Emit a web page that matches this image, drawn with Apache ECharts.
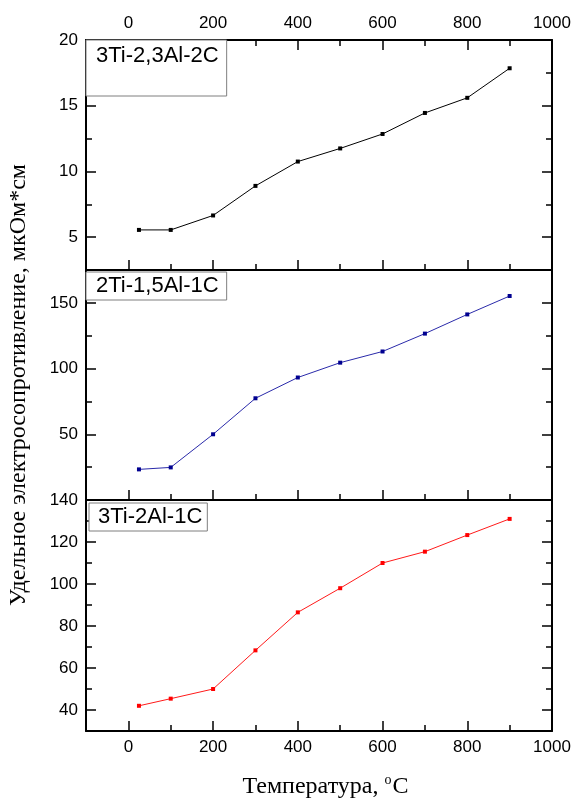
<!DOCTYPE html>
<html>
<head>
<meta charset="utf-8">
<script src="https://cdn.jsdelivr.net/npm/echarts@6/dist/echarts.min.js"></script>
<style>
  html, body { margin: 0; padding: 0; background: #fff; }
  #chart { width: 571px; height: 799px; }
</style>
</head>
<body>
<div id="chart"></div>
<script>
// Temperature points, °C
const temperatures = [25, 100, 200, 300, 400, 500, 600, 700, 800, 900];
// Specific resistivity, µOhm*cm, for each composition
const rho3Ti23Al2C = [5.55, 5.55, 6.65, 8.9, 10.75, 11.75, 12.85, 14.45, 15.6, 17.85];
const rho2Ti15Al1C = [23.3, 24.8, 50, 77.4, 93.2, 104.5, 113, 126.6, 141.2, 155.2];
const rho3Ti2Al1C = [42, 45.4, 50, 68.4, 86.5, 98, 110, 115.4, 123.3, 131];
const seriesNames = ['3Ti-2,3Al-2C', '2Ti-1,5Al-1C', '3Ti-2Al-1C'];

// Tick labels
const xTickLabels = [0, 200, 400, 600, 800, 1000];
const yTickLabels1 = [5, 10, 15, 20];
const yTickLabels2 = [50, 100, 150];
const yTickLabels3 = [40, 60, 80, 100, 120, 140];

const yTitle = 'Удельное электросопротивление, мкОм*см';
const xTitle = 'Температура, {sup|o}C';

// Axis ranges: [min, max, major step, minor step]
const xRange = [-100, 1000, 200, 100];
const yRanges = [[2.5, 20, 5, 2.5], [0, 175, 50, 25], [30, 140, 20, 10]];

const grids = [
  { left: 86, right: 19, top: 40, height: 230, outerBoundsMode: 'none' },
  { left: 86, right: 19, top: 270, height: 230, outerBoundsMode: 'none' },
  { left: 86, right: 19, top: 500, height: 231, outerBoundsMode: 'none' }
];

function stepValues(min, max, step) {
  const out = [];
  const start = Math.ceil(min / step - 1e-9);
  for (let k = start; k * step <= max + 1e-9; k++) out.push(+(k * step).toFixed(6));
  return out;
}
function majorMinor(r) {
  const major = stepValues(r[0], r[1], r[2]);
  const minor = stepValues(r[0], r[1], r[3]).filter(v => !major.some(m => Math.abs(m - v) < 1e-9));
  return { major, minor };
}

const tickFont = { fontSize: 17, fontFamily: 'Liberation Sans, Arial, sans-serif', color: '#000', formatter: v => String(v) };
const serifFont = 'Liberation Serif, Times New Roman, serif';

function axis(grid, pos, r, ticks, len, labels, showLine, extra) {
  return Object.assign({
    type: 'value', gridIndex: grid, position: pos,
    min: r[0], max: r[1], interval: r[3],
    axisLine: { show: showLine, onZero: false, lineStyle: { color: '#000', width: 2 } },
    axisTick: { show: true, inside: true, length: len, customValues: ticks, lineStyle: { color: '#000', width: 1.5 } },
    axisLabel: labels ? Object.assign({ show: true, customValues: labels, margin: 8 }, tickFont) : { show: false },
    splitLine: { show: false }
  }, extra || {});
}

const xTicks = majorMinor(xRange);
const xAxes = [];
const yAxes = [];

grids.forEach((g, i) => {
  const yTicks = majorMinor(yRanges[i]);
  const yLabels = [yTickLabels1, yTickLabels2, yTickLabels3][i];
  const xNameOpt = i === 2 ? {
    name: xTitle, nameLocation: 'middle', nameGap: 42,
    nameTextStyle: {
      fontFamily: serifFont, fontSize: 24, color: '#000', padding: [0, 0, 0, 13],
      rich: { sup: { fontFamily: serifFont, fontSize: 14, color: '#000', padding: [0, 1, 13, 0] } }
    }
  } : null;
  const yNameOpt = i === 1 ? {
    name: yTitle, nameLocation: 'middle', nameGap: 55,
    nameTextStyle: { fontFamily: serifFont, fontSize: 24, color: '#000' }
  } : null;
  xAxes.push(axis(i, 'bottom', xRange, xTicks.major, 10, i === 2 ? xTickLabels : null, true, xNameOpt));
  xAxes.push(axis(i, 'bottom', xRange, xTicks.minor, 6, null, false));
  xAxes.push(axis(i, 'top', xRange, i === 0 ? xTicks.major : [], 10, i === 0 ? xTickLabels : null, i === 0));
  xAxes.push(axis(i, 'top', xRange, i === 0 ? xTicks.minor : [], 6, null, false));
  yAxes.push(axis(i, 'left', yRanges[i], yTicks.major, 10, yLabels, true, yNameOpt));
  yAxes.push(axis(i, 'left', yRanges[i], yTicks.minor, 6, null, false));
  yAxes.push(axis(i, 'right', yRanges[i], yTicks.major, 10, null, true));
  yAxes.push(axis(i, 'right', yRanges[i], yTicks.minor, 6, null, false));
});

const seriesValues = [rho3Ti23Al2C, rho2Ti15Al1C, rho3Ti2Al1C];
const lineColors = ['#000000', '#2a2aaa', '#ff1a1a'];
const markColors = ['#000000', '#000090', '#ff0000'];

const series = seriesValues.map((vals, i) => ({
  name: seriesNames[i],
  type: 'line',
  xAxisIndex: 4 * i,
  yAxisIndex: 4 * i,
  data: temperatures.map((t, k) => [t, vals[k]]),
  symbol: 'rect',
  symbolSize: 4,
  lineStyle: { color: lineColors[i], width: 1 },
  itemStyle: { color: markColors[i] }
}));

// One framed caption per panel
const legendBase = {
  icon: 'none', itemWidth: 0, itemHeight: 0, selectedMode: false,
  borderColor: '#7f7f7f', borderWidth: 1, backgroundColor: '#fff',
  textStyle: { fontSize: 22, fontFamily: 'Liberation Sans, Arial, sans-serif', color: '#000' }
};
const legends = [
  Object.assign({}, legendBase, { data: [seriesNames[0]], left: 86, top: 40, padding: [5, 8, 29, 5] }),
  Object.assign({}, legendBase, { data: [seriesNames[1]], left: 86, top: 272, padding: [3, 8, 3, 5] }),
  Object.assign({}, legendBase, { data: [seriesNames[2]], left: 89, top: 503, padding: [3, 5, 3, 4] })
];

const chart = echarts.init(document.getElementById('chart'));
chart.setOption({
  backgroundColor: '#fff',
  animation: false,
  grid: grids,
  xAxis: xAxes,
  yAxis: yAxes,
  legend: legends,
  series: series
});
</script>
</body>
</html>
